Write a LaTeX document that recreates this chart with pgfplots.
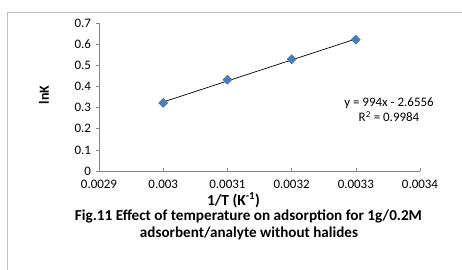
\documentclass[border=0pt]{standalone}
\usepackage{pgfplots}
\pgfplotsset{compat=1.18}
\usepackage{graphicx}
\usepackage{fontspec}
\setmainfont{Carlito}
\definecolor{exblue}{HTML}{4A7EBB}
\definecolor{axgray}{HTML}{868686}
\definecolor{frgray}{HTML}{BFBFBF}
\begin{document}
\begin{tikzpicture}[x=1bp,y=1bp]
\useasboundingbox (0,0) rectangle (462,269);
\begin{scope}
\clip (0,0) rectangle (462,269);
\draw[frgray, line width=0.8bp] (7,-20) -- (7,257) -- (480,257);
\end{scope}
\begin{axis}[
  at={(99bp,98bp)}, anchor=origin,
  scale only axis, width=321bp, height=148bp,
  xmin=0.0029, xmax=0.0034, ymin=0, ymax=0.7,
  axis x line*=bottom, axis y line*=left,
  axis line style={axgray, line width=0.6bp},
  xtick={0.0029,0.003,0.0031,0.0032,0.0033,0.0034},
  xticklabels={0.0029,0.003,0.0031,0.0032,0.0033,0.0034},
  ytick={0,0.1,0.2,0.3,0.4,0.5,0.6,0.7},
  yticklabels={0,0.1,0.2,0.3,0.4,0.5,0.6,0.7},
  x tick style={axgray, line width=0.6bp},
  y tick style={axgray, line width=0.6bp},
  major tick length=3.5bp,
  xtick align=inside, ytick align=outside,
  ticklabel style={font=\fontsize{13}{15}\selectfont, text=black},
  x tick label style={yshift=-5.5bp},
  y tick label style={xshift=-1bp},
  /pgf/number format/assume math mode=true,
  scaled x ticks=false,
  clip=false,
]
\addplot[black, line width=0.7bp, no marks] coordinates {(0.003,0.3264) (0.0033,0.6246)};
\addplot[only marks, mark=square*, mark size=3.2bp, mark options={rotate=45, fill=exblue, draw=exblue!85!black, line width=0.4bp}] coordinates {
(0.003,0.322) (0.0031,0.432) (0.0032,0.528) (0.0033,0.621)};
\end{axis}
\node[anchor=base, inner sep=0, font=\fontsize{13}{15}\selectfont] at (389,163) {y = 994x - 2.6556};
\node[anchor=base, inner sep=0, font=\fontsize{13}{15}\selectfont] at (389,147.5) {R\textsuperscript{2} = 0.9984};
\node[rotate=90, inner sep=0, font=\bfseries\fontsize{14}{16}\selectfont] at (44,174) {lnK};
\node[anchor=base, inner sep=0, font=\bfseries\fontsize{14}{16}\selectfont] at (233.5,63.5) {\resizebox{53bp}{!}{1/T (K\textsuperscript{-1})}};
\node[anchor=base, inner sep=0, font=\bfseries\fontsize{14}{16}\selectfont] at (248.5,48.3) {\resizebox{347bp}{!}{Fig.11 Effect of temperature on adsorption for 1g/0.2M}};
\node[anchor=base, inner sep=0, font=\bfseries\fontsize{14}{16}\selectfont] at (249,31.5) {\resizebox{218bp}{!}{adsorbent/analyte without halides}};
\end{tikzpicture}
\end{document}
